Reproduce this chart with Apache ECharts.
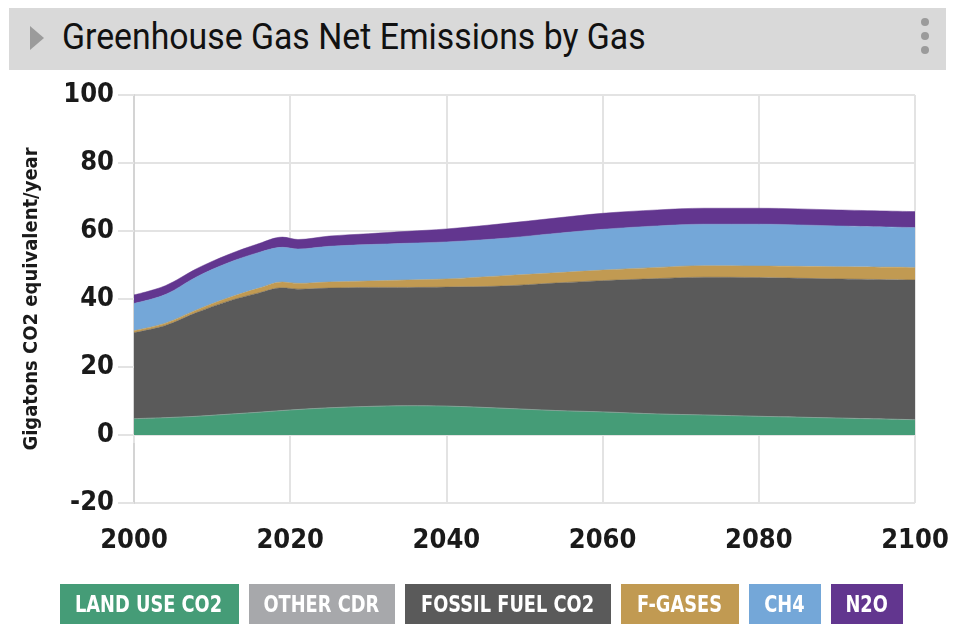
<!DOCTYPE html>
<html>
<head>
<meta charset="utf-8">
<script src="https://cdn.jsdelivr.net/npm/echarts@6/dist/echarts.min.js"></script>
<style>
  html, body { margin: 0; padding: 0; background: #fff; }
  body { width: 962px; height: 630px; position: relative; overflow: hidden; font-family: "Roboto", sans-serif; }
  #chart { position: absolute; left: 0; top: 0; width: 962px; height: 630px; }
  #header { position: absolute; left: 9px; top: 8px; width: 937px; height: 62px; background: #d9d9d9; }
  #tri { position: absolute; left: 30px; top: 26px; width: 0; height: 0;
         border-top: 12px solid transparent; border-bottom: 12px solid transparent; border-left: 14px solid #9b9b9b; }
  #title { position: absolute; left: 62px; top: 14px; font-size: 36px; color: #111; white-space: nowrap;
           line-height: 46px; transform-origin: 0 50%; }
  .dot { position: absolute; left: 921px; width: 8px; height: 8px; border-radius: 50%; background: #9b9b9b; }
  #legend { position: absolute; left: 0; top: 584px; width: 962px; display: flex; justify-content: center; gap: 10px; }
  .lg { height: 40px; line-height: 40px; color: #fff; font-weight: bold; font-size: 23px; white-space: nowrap;
        font-family: "DejaVu Sans Condensed", "Roboto", sans-serif;
        display: flex; justify-content: center; overflow: hidden; }
  .lg span { display: inline-block; transform: scaleX(0.86); }
</style>
</head>
<body>
<div id="chart"></div>
<div id="header"></div>
<div id="tri"></div>
<div id="title">Greenhouse Gas Net Emissions by Gas</div>
<div class="dot" style="top:18px"></div>
<div class="dot" style="top:32px"></div>
<div class="dot" style="top:46px"></div>
<div id="legend"></div>
<script>
// Years
const years = [2000, 2004, 2008, 2012, 2016, 2019, 2021, 2025, 2030, 2035, 2040, 2047, 2054, 2060, 2067, 2073, 2080, 2090, 2100];
// Layer values (Gt CO2e/yr), stacked bottom to top
const landUseCO2 = [4.8, 5.1, 5.5, 6.1, 6.7, 7.2, 7.5, 8.0, 8.4, 8.6, 8.5, 7.9, 7.2, 6.8, 6.2, 5.9, 5.5, 5.0, 4.5];
const otherCDR   = [0, 0, 0, 0, 0, 0, 0, 0, 0, 0, 0, 0, 0, 0, 0, 0, 0, 0, 0];
const fossilCO2  = [25.3, 27.1, 30.5, 33.2, 35.1, 36.1, 35.4, 35.2, 35.0, 34.8, 35.0, 35.9, 37.5, 38.6, 39.8, 40.5, 40.8, 40.9, 41.1];
const fGases     = [0.6, 0.7, 0.8, 1.0, 1.4, 1.7, 1.7, 1.8, 1.9, 2.2, 2.4, 3.0, 3.0, 3.1, 3.3, 3.4, 3.4, 3.6, 3.7];
const ch4        = [8.0, 8.4, 9.7, 10.3, 10.5, 10.2, 10.1, 10.5, 10.7, 10.8, 10.9, 11.0, 11.6, 12.0, 12.2, 12.2, 12.3, 12.0, 11.7];
const n2o        = [2.5, 2.6, 2.4, 2.4, 2.6, 3.0, 2.8, 3.0, 3.2, 3.5, 3.8, 4.3, 4.5, 4.7, 4.7, 4.7, 4.7, 4.7, 4.7];
const seriesNames = ['LAND USE CO2', 'OTHER CDR', 'FOSSIL FUEL CO2', 'F-GASES', 'CH4', 'N2O'];
const seriesColors = ['#459c77', '#a7a8ab', '#5a5a5a', '#c19a52', '#74a7d8', '#62368f'];
const yTicks = [-20, 0, 20, 40, 60, 80, 100];
const xTicks = [2000, 2020, 2040, 2060, 2080, 2100];

const values = [landUseCO2, otherCDR, fossilCO2, fGases, ch4, n2o];
const font = '"DejaVu Sans Condensed", "Roboto", sans-serif';
const legendWidths = [179, 146, 206, 118, 72, 72];

const chart = echarts.init(document.getElementById('chart'), null, { renderer: 'canvas' });
chart.setOption({
  animation: false,
  grid: { left: 134, right: 47, top: 95, bottom: 127, containLabel: false },
  xAxis: {
    type: 'value', min: xTicks[0], max: xTicks[xTicks.length - 1], interval: 20,
    axisLine: { show: false },
    axisTick: { show: true, length: 8, lineStyle: { color: '#e3e3e3', width: 2 } },
    splitLine: { show: true, lineStyle: { color: '#e3e3e3', width: 2 } },
    axisLabel: { margin: 24, fontFamily: font, fontWeight: 'bold', fontSize: 27, color: '#1a1a1a',
                 formatter: v => String(v) }
  },
  yAxis: {
    type: 'value', min: yTicks[0], max: yTicks[yTicks.length - 1], interval: 20,
    name: 'Gigatons CO2 equivalent/year', nameLocation: 'middle', nameGap: 92,
    nameTextStyle: { fontFamily: font, fontWeight: 'bold', fontSize: 20, color: '#1a1a1a' },
    axisLine: { show: true, lineStyle: { color: '#d4d4d4', width: 2 } },
    axisTick: { show: true, length: 16, lineStyle: { color: '#e3e3e3', width: 2 } },
    splitLine: { show: true, lineStyle: { color: '#e3e3e3', width: 2 } },
    axisLabel: { margin: 20, fontFamily: font, fontWeight: 'bold', fontSize: 27, color: '#1a1a1a' }
  },
  // data rows are [value, year] so that ECharts stacks the value (y) dimension
  series: seriesNames.map((name, i) => ({
    name: name, type: 'line', stack: 'total', smooth: 0.35, symbol: 'none', showSymbol: false,
    encode: { x: 1, y: 0 },
    lineStyle: { width: 0.5, color: seriesColors[i] }, areaStyle: { color: seriesColors[i], opacity: 1 },
    itemStyle: { color: seriesColors[i] },
    data: years.map((y, j) => [values[i][j], y])
  }))
});

const t = document.getElementById('title');
t.style.transform = 'scaleX(' + (584 / t.offsetWidth) + ')';

const lg = document.getElementById('legend');
seriesNames.forEach((n, i) => {
  const d = document.createElement('div');
  d.className = 'lg'; d.style.background = seriesColors[i]; d.style.width = legendWidths[i] + 'px';
  const s = document.createElement('span'); s.textContent = n; d.appendChild(s);
  lg.appendChild(d);
});
</script>
</body>
</html>
